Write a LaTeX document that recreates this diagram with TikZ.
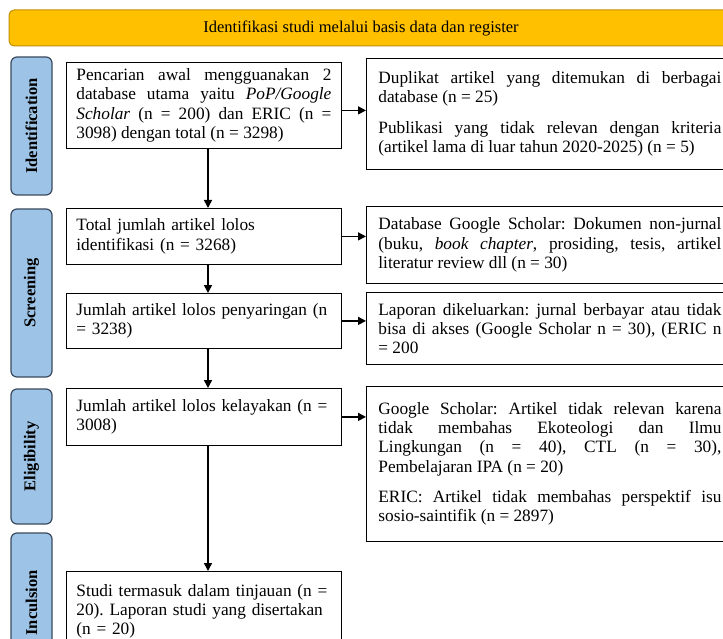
\documentclass[tikz,border=0pt]{standalone}
\usepackage{fontspec}
\setmainfont{Liberation Serif}
\usetikzlibrary{arrows.meta}
\definecolor{gold}{HTML}{FFC000}
\definecolor{golddark}{HTML}{C09000}
\definecolor{sideblue}{HTML}{9DC3E6}
\definecolor{sideedge}{HTML}{3A4A5E}
\frenchspacing
\begin{document}
\begin{tikzpicture}[x=1pt,y=-1pt,
  box/.style={draw=black, line width=0.8pt, anchor=north west, inner ysep=2pt,
    font=\fontsize{17.3}{19.2}\selectfont, execute at begin node={\parindent=0pt\hyphenpenalty=10000\exhyphenpenalty=10000\frenchspacing}},
  lbox/.style={box, inner xsep=10pt, text width=255pt},
  rbox/.style={box, inner xsep=12pt, text width=343pt, align=justify},
  side/.style={draw=sideedge, line width=1.2pt, fill=sideblue, rounded corners=6pt,
    rotate=90, minimum height=41pt, font=\fontsize{16.5}{18}\selectfont\bfseries, inner sep=0pt},
  arr/.style={line width=1.5pt, -{Triangle[length=8pt,width=8pt]}},
  titletext/.style={font=\fontsize{16.5}{19}\selectfont}
]
\useasboundingbox (0,0) rectangle (723,639);
\clip (0,0) rectangle (723,639);
\fill[white] (0,0) rectangle (723,639);

% title bar
\draw[fill=gold, draw=golddark, line width=1pt, rounded corners=5pt] (9,10) rectangle (760,46);
\node[titletext] (title) at (361,28) {Identifikasi studi melalui basis data dan register};

% side labels
\node[side, minimum width=138pt] (s1) at (31.5,126) {Identification};
\node[side, minimum width=168pt] (s2) at (31.5,293) {Screening};
\node[side, minimum width=135pt] (s3) at (31.5,456.5) {Eligibility};
\node[side, minimum width=140pt] (s4) at (31.5,603) {Inculsion};

% left boxes
\node[lbox, align=justify, minimum height=86pt] (b1) at (66,62)
  {Pencarian awal mengguanakan 2\linebreak database utama yaitu \textit{PoP/Google}\linebreak \textit{Scholar} (n = 200) dan ERIC (n =\linebreak 3098) dengan total (n = 3298)};
\node[lbox, align=left, minimum height=56pt] (b2) at (66,208)
  {Total jumlah artikel lolos\\ identifikasi (n = 3268)};
\node[lbox, align=left, minimum height=55pt] (b3) at (66,293)
  {Jumlah artikel lolos penyaringan (n\\ = 3238)};
\node[lbox, align=left, minimum height=57pt] (b4) at (66,388)
  {Jumlah artikel lolos kelayakan (n =\\ 3008)};
\node[lbox, align=left, minimum height=80pt] (b5) at (66,571)
  {Studi termasuk dalam tinjauan (n =\\ 20). Laporan studi yang disertakan\\ (n = 20)};

% right boxes
\node[rbox, minimum height=111pt] (r1) at (366,58)
  {Duplikat artikel yang ditemukan di berbagai\linebreak database (n = 25)\par\vspace{11pt}Publikasi yang tidak relevan dengan kriteria\linebreak (artikel lama di luar tahun 2020-2025) (n = 5)};
\node[rbox, minimum height=77pt] (r2) at (366,206)
  {Database Google Scholar: Dokumen non-jurnal\linebreak (buku, \textit{book chapter}, prosiding, tesis, artikel\linebreak literatur review dll (n = 30)};
\node[rbox, minimum height=72pt] (r3) at (366,292)
  {Laporan dikeluarkan: jurnal berbayar atau tidak\linebreak bisa di akses (Google Scholar n = 30), (ERIC n\linebreak = 200};
\node[rbox, minimum height=155pt] (r4) at (366,386)
  {Google Scholar: Artikel tidak relevan karena\linebreak tidak membahas Ekoteologi dan Ilmu\linebreak Lingkungan (n = 40), CTL (n = 30),\linebreak Pembelajaran IPA (n = 20)\par\vspace{11pt}ERIC: Artikel tidak membahas perspektif isu\linebreak sosio-saintifik (n = 2897)};

% connectors
\coordinate (ax) at (208,0);
\draw[arr] (b1.south -| ax) -- (b2.north -| ax);
\draw[arr] (b2.south -| ax) -- (b3.north -| ax);
\draw[arr] (b3.south -| ax) -- (b4.north -| ax);
\draw[arr] (b4.south -| ax) -- (b5.north -| ax);

\draw[arr] ([yshift=-5pt]b1.east) -- ([yshift=-5pt]b1.east -| r1.west);
\draw[arr] (b2.east) -- (b2.east -| r2.west);
\draw[arr] (b3.east) -- (b3.east -| r3.west);
\draw[arr] (b4.east) -- (b4.east -| r4.west);
\end{tikzpicture}
\end{document}
